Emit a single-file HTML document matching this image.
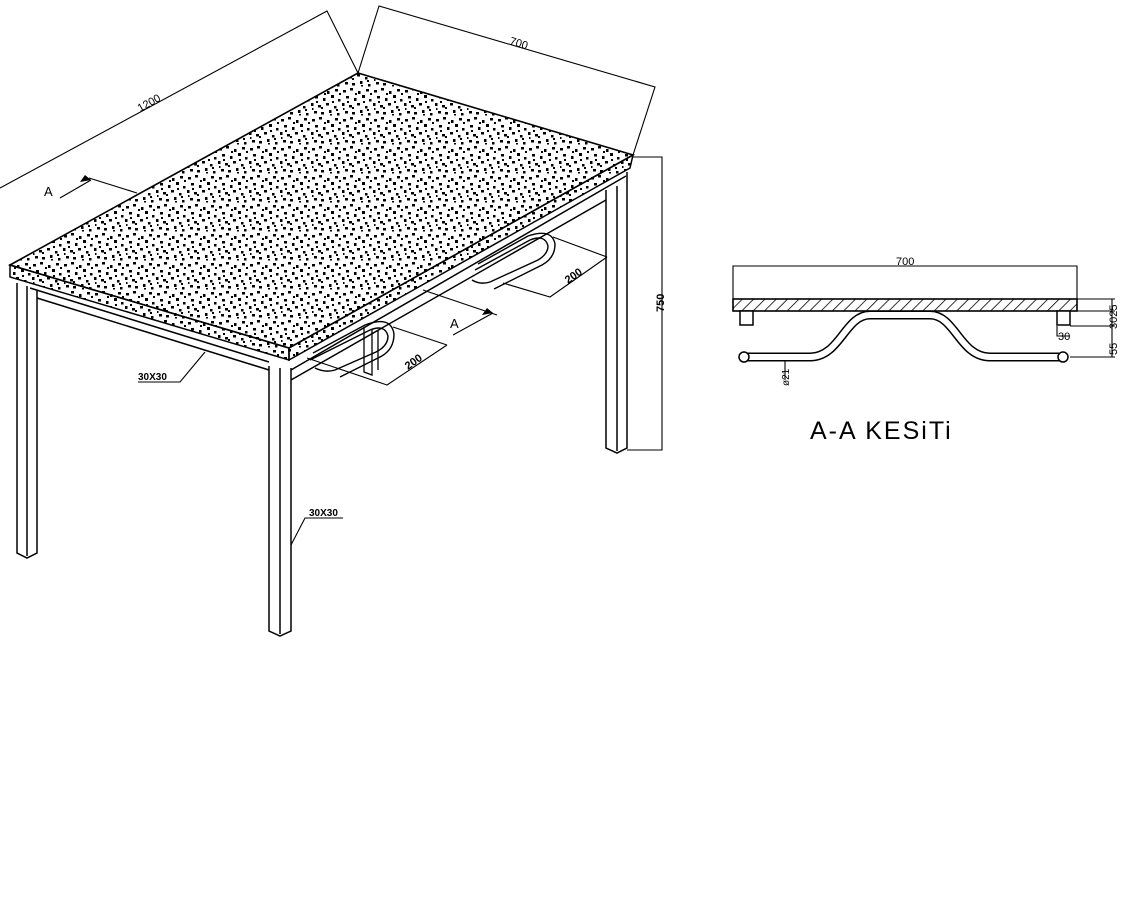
<!DOCTYPE html>
<html><head><meta charset="utf-8"><style>
html,body{margin:0;padding:0;background:#fff;}
svg{display:block;}
text{font-family:"Liberation Sans",sans-serif;fill:#000;}
</style></head><body>
<svg width="1130" height="897" viewBox="0 0 1130 897" xmlns="http://www.w3.org/2000/svg">
<defs>
<pattern id="sp" width="31" height="29" patternUnits="userSpaceOnUse">
<rect x="2" y="3" width="3" height="2.5"/><rect x="9" y="1" width="3" height="2.5"/><rect x="17" y="4" width="2.5" height="3"/><rect x="25" y="2" width="3" height="2.5"/>
<rect x="5" y="9" width="3" height="2.5"/><rect x="13" y="11" width="2.5" height="3"/><rect x="21" y="8" width="3" height="3"/><rect x="28" y="12" width="2.5" height="2.5"/>
<rect x="1" y="16" width="2.5" height="3"/><rect x="8" y="18" width="3" height="2.5"/><rect x="16" y="16" width="3" height="2.5"/><rect x="24" y="19" width="2.5" height="2.5"/>
<rect x="4" y="24" width="3" height="2.5"/><rect x="11" y="25" width="3" height="2.5"/><rect x="19" y="23" width="2.5" height="3"/><rect x="27" y="26" width="2.5" height="2.5"/>
<rect x="14" y="6" width="2" height="2"/><rect x="6" y="14" width="2" height="2"/><rect x="22" y="14" width="2" height="2"/><rect x="29" y="6" width="2" height="2"/>
<rect x="11" y="20" width="2" height="2"/><rect x="20" y="27" width="2" height="1.5"/><rect x="2" y="21" width="1.5" height="2"/><rect x="26" y="22" width="2" height="2"/>
</pattern>
<pattern id="ht" width="8" height="8" patternUnits="userSpaceOnUse" patternTransform="rotate(45)">
<line x1="0" y1="0" x2="0" y2="8" stroke="#000" stroke-width="1.6"/>
</pattern>
</defs>
<g fill="none" stroke="#000" stroke-width="1.5">
<path d="M17 283 V553 L27 558 L37 553 V290 M27 286 V556" />
<path d="M269 366 V631 L280 636 L291 631 V368 M280 368 V634" />
<path d="M606 190 V448 L617 453 L627 448 V172 M617 186 V451" />
<path d="M37 298 L269 370 M30 288 L269 362" />
<path d="M291 380 L606 200 M291 370 L626 176" />
<path d="M475 270 L530 240 Q545 234 548 246 Q548 254 538 260 L490 282 Q480 285 472 280" stroke-width="1.4"/>
<path d="M478 264 L528 236 Q552 228 555 244 Q555 258 542 265 L494 289" stroke-width="1.4"/>
<path d="M310 360 L370 330 Q385 324 388 336 Q388 346 376 352 L335 370 Q325 373 315 368" stroke-width="1.4"/>
<path d="M313 353 L365 325 Q391 315 394 334 Q394 350 380 357 L340 377" stroke-width="1.4"/>
<path d="M364 328 V372 L372 375 V330 M378 330 V370" stroke-width="1.3"/>
</g>
<polygon points="10,265 358,73 633,155 289,348" fill="url(#sp)" stroke="#000" stroke-width="1.6"/>
<polygon points="10,265 289,348 289,360 10,277" fill="url(#sp)" stroke="#000" stroke-width="1.5"/>
<polygon points="289,348 633,155 630,168 289,360" fill="url(#sp)" stroke="#000" stroke-width="1.5"/>
<g fill="none" stroke="#000" stroke-width="1.1">
<path d="M0 188 L327 11 L358 73 L379 6 L655 87 L633 155"/>
<path d="M633 157 H662 V450 H627"/>
<path d="M553 237 L607 257 M503 283 L550 297 L607 257"/>
<path d="M393 327 L447 345 M307 358 L387 385 L447 345"/>
<path d="M423 290 L497 315 M453 335 L493 313"/>
<path d="M89 178 L137 193 M60 198 L91 180"/>
<path d="M205 352 L180 382 H138"/>
<path d="M291 545 L305 518 H343"/>
</g>
<polygon points="493,313 482,315 487,308" fill="#000"/>
<polygon points="91,180 80,182 85,175" fill="#000"/>
<g font-size="11">
<text transform="translate(140,112) rotate(-29)">1200</text>
<text transform="translate(509,44) rotate(17)">700</text>
<text transform="translate(664,312) rotate(-90)" font-weight="bold">750</text>
<text transform="translate(568,284) rotate(-35)" font-weight="bold">200</text>
<text transform="translate(408,370) rotate(-35)" font-weight="bold">200</text>
<text x="450" y="328" font-size="13">A</text>
<text x="44" y="196" font-size="13">A</text>
<text x="138" y="380" font-weight="bold" font-size="10">30X30</text>
<text x="309" y="516" font-weight="bold" font-size="10">30X30</text>
</g>
<g fill="none" stroke="#000" stroke-width="1.1">
<path d="M733 311 V266 H1077 V299"/>
<path d="M1077 299 H1115 M1077 311 H1115 M1070 326 H1115 M1070 357 H1115 M1112 299 V357"/>
<path d="M1057 326 V336 H1070"/>
<path d="M785 357 V380"/>
</g>
<rect x="733" y="299" width="344" height="12" fill="url(#ht)" stroke="#000" stroke-width="1.6"/>
<rect x="740" y="311" width="13" height="14" fill="#fff" stroke="#000" stroke-width="1.5"/>
<rect x="1057" y="311" width="13" height="14" fill="#fff" stroke="#000" stroke-width="1.5"/>
<path d="M745 357 H810 C840 357 845 315 870 315 H930 C955 315 960 357 990 357 H1062" fill="none" stroke="#000" stroke-width="9"/>
<path d="M745 357 H810 C840 357 845 315 870 315 H930 C955 315 960 357 990 357 H1062" fill="none" stroke="#fff" stroke-width="6"/>
<circle cx="744" cy="357" r="5" fill="#fff" stroke="#000" stroke-width="1.5"/>
<circle cx="1063" cy="357" r="5" fill="#fff" stroke="#000" stroke-width="1.5"/>
<g font-size="11">
<text x="896" y="265">700</text>
<text x="1058" y="340" font-size="11">30</text>
<text transform="translate(1117,329) rotate(-90)">3025</text>
<text transform="translate(1117,355) rotate(-90)">55</text>
<text transform="translate(789,386) rotate(-90)" font-size="10">ø21</text>
<text x="810" y="439" font-size="25" letter-spacing="2">A-A KESiTi</text>
</g>
</svg>
</body></html>
